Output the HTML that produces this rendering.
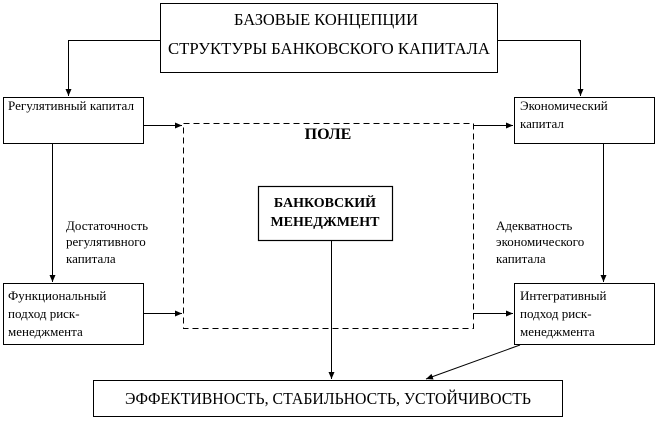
<!DOCTYPE html>
<html><head><meta charset="utf-8"><style>
body{margin:0;background:#fff}
svg text{font-family:"Liberation Serif",serif;fill:#000}
</style></head><body>
<svg width="656" height="419" viewBox="0 0 656 419" xmlns="http://www.w3.org/2000/svg">
<defs><marker id="a" markerWidth="8" markerHeight="8" refX="7" refY="4" orient="auto" markerUnits="userSpaceOnUse"><path d="M0,1 L7,4 L0,7z" fill="#000"/></marker></defs>
<g fill="none" stroke="#000" stroke-width="1">
<rect x="160.5" y="3.5" width="337" height="69"/>
<rect x="3.5" y="97.5" width="140" height="46"/>
<rect x="514.5" y="97.5" width="140" height="46"/>
<rect x="183.5" y="123.5" width="290" height="205" stroke-dasharray="6,4"/>
<rect x="258.5" y="186.5" width="134" height="54" stroke-width="1.2"/>
<rect x="3.5" y="283.5" width="140" height="61"/>
<rect x="514.5" y="283.5" width="140" height="61"/>
<rect x="93.5" y="380.5" width="469" height="36"/>
<path d="M160,40.5 H68.5 V96" marker-end="url(#a)"/>
<path d="M497,40.5 H580.5 V96" marker-end="url(#a)"/>
<path d="M143,125.5 H182" marker-end="url(#a)"/>
<path d="M473,125.5 H513" marker-end="url(#a)"/>
<path d="M52.5,144 V282" marker-end="url(#a)"/>
<path d="M603.5,144 V282" marker-end="url(#a)"/>
<path d="M143,313.5 H182" marker-end="url(#a)"/>
<path d="M473,313.5 H513" marker-end="url(#a)"/>
<path d="M331.5,241 V379" marker-end="url(#a)"/>
<path d="M520,345 L426,379" marker-end="url(#a)"/>
</g>
<g font-size="17">
<text x="234" y="25" textLength="184" lengthAdjust="spacingAndGlyphs">БАЗОВЫЕ КОНЦЕПЦИИ</text>
<text x="168" y="54" textLength="322" lengthAdjust="spacingAndGlyphs">СТРУКТУРЫ БАНКОВСКОГО КАПИТАЛА</text>
<text x="125" y="404" textLength="406" lengthAdjust="spacingAndGlyphs">ЭФФЕКТИВНОСТЬ, СТАБИЛЬНОСТЬ, УСТОЙЧИВОСТЬ</text>
<text x="328" y="139" font-weight="bold" font-size="16" text-anchor="middle">ПОЛЕ</text>
<text x="325" y="207" font-weight="bold" font-size="14" text-anchor="middle">БАНКОВСКИЙ</text>
<text x="325" y="226" font-weight="bold" font-size="14" text-anchor="middle">МЕНЕДЖМЕНТ</text>
</g>
<g font-size="13">
<text x="8" y="110" textLength="126" lengthAdjust="spacingAndGlyphs">Регулятивный капитал</text>
<text x="520" y="110">Экономический</text>
<text x="520" y="128">капитал</text>
<text x="66" y="230">Достаточность</text>
<text x="66" y="246">регулятивного</text>
<text x="66" y="263">капитала</text>
<text x="496" y="230">Адекватность</text>
<text x="496" y="246">экономического</text>
<text x="496" y="263">капитала</text>
<text x="8" y="300">Функциональный</text>
<text x="8" y="318">подход риск-</text>
<text x="8" y="336">менеджмента</text>
<text x="520" y="300">Интегративный</text>
<text x="520" y="318">подход риск-</text>
<text x="520" y="336">менеджмента</text>
</g>
</svg>
</body></html>
